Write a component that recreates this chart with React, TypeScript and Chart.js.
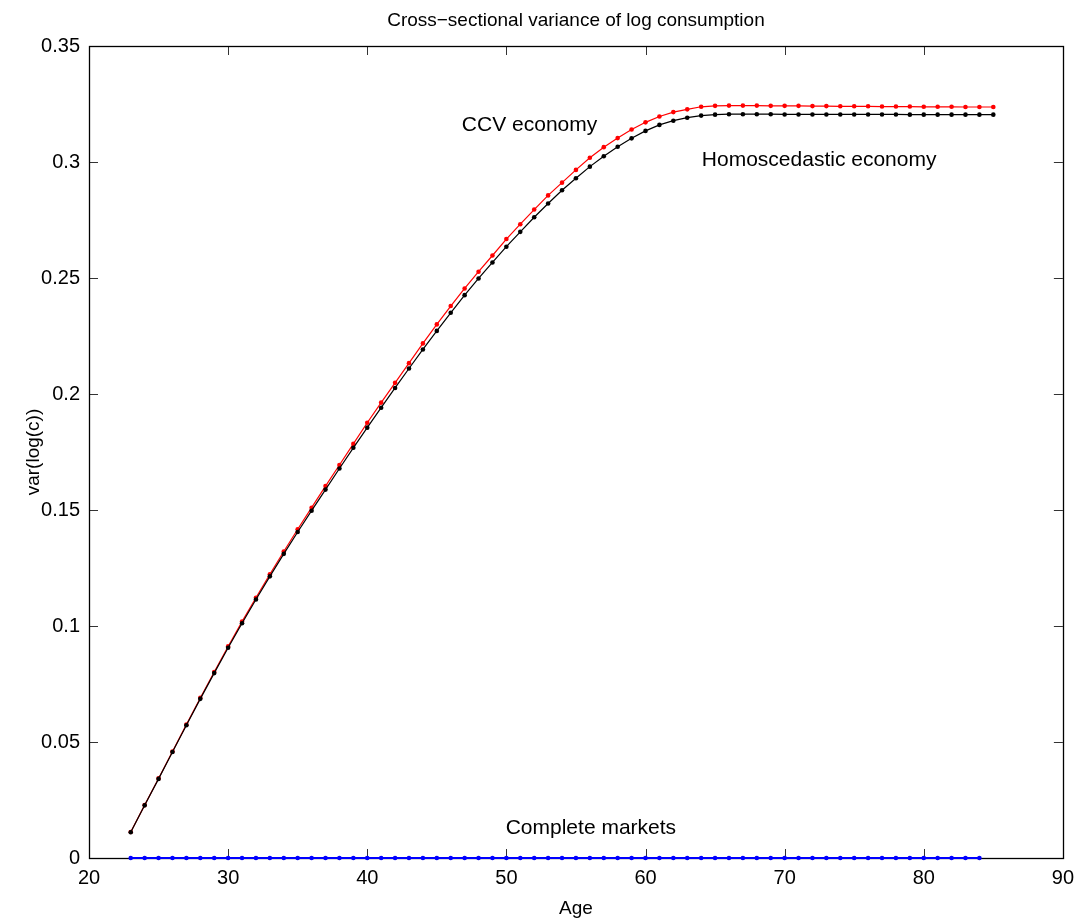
import React, { useEffect, useRef } from "react";
import { Chart, registerables } from "chart.js";

Chart.register(...registerables);

const ages: number[] = [
  23, 24, 25, 26, 27, 28, 29, 30, 31, 32, 33, 34, 35, 36, 37, 38, 39, 40, 41, 42, 43,
  44, 45, 46, 47, 48, 49, 50, 51, 52, 53, 54, 55, 56, 57, 58, 59, 60, 61, 62, 63, 64,
  65, 66, 67, 68, 69, 70, 71, 72, 73, 74, 75, 76, 77, 78, 79, 80, 81, 82, 83, 84, 85,
];

const homoscedastic: number[] = [
  0.0111, 0.0227, 0.0341, 0.0457, 0.0572, 0.0686, 0.0797, 0.0906, 0.1012, 0.1114,
  0.1214, 0.1311, 0.1405, 0.1497, 0.1588, 0.1679, 0.1768, 0.1855, 0.1941, 0.2026,
  0.2110, 0.2192, 0.2272, 0.2350, 0.2426, 0.2498, 0.2567, 0.2635, 0.2699, 0.2762,
  0.2821, 0.2878, 0.2930, 0.2980, 0.3025, 0.3066, 0.3102, 0.3134, 0.3160, 0.3178,
  0.3191, 0.3200, 0.3204, 0.3206, 0.3206, 0.3206, 0.3206, 0.3205, 0.3205, 0.3205,
  0.3205, 0.3205, 0.3205, 0.3205, 0.3205, 0.3205, 0.3204, 0.3204, 0.3204, 0.3204,
  0.3204, 0.3204, 0.3204,
];

const ccv: number[] = [
  0.0112, 0.0228, 0.0343, 0.0459, 0.0575, 0.0690, 0.0802, 0.0912, 0.1019, 0.1122,
  0.1223, 0.1321, 0.1417, 0.1510, 0.1603, 0.1694, 0.1785, 0.1876, 0.1963, 0.2048,
  0.2133, 0.2218, 0.2300, 0.2379, 0.2455, 0.2527, 0.2597, 0.2668, 0.2732, 0.2795,
  0.2856, 0.2911, 0.2966, 0.3018, 0.3064, 0.3103, 0.3140, 0.3171, 0.3196, 0.3215,
  0.3227, 0.3238, 0.3242, 0.3243, 0.3243, 0.3243, 0.3242, 0.3242, 0.3242, 0.3241,
  0.3241, 0.3240, 0.3240, 0.3240, 0.3239, 0.3239, 0.3239, 0.3238, 0.3238, 0.3238,
  0.3237, 0.3237, 0.3237,
];

const completeAges: number[] = [
  23, 24, 25, 26, 27, 28, 29, 30, 31, 32, 33, 34, 35, 36, 37, 38, 39, 40, 41, 42, 43,
  44, 45, 46, 47, 48, 49, 50, 51, 52, 53, 54, 55, 56, 57, 58, 59, 60, 61, 62, 63, 64,
  65, 66, 67, 68, 69, 70, 71, 72, 73, 74, 75, 76, 77, 78, 79, 80, 81, 82, 83, 84,
];
const completeMarkets: number[] = [
  0, 0, 0, 0, 0, 0, 0, 0, 0, 0, 0, 0, 0, 0, 0, 0, 0, 0, 0, 0, 0,
  0, 0, 0, 0, 0, 0, 0, 0, 0, 0, 0, 0, 0, 0, 0, 0, 0, 0, 0, 0, 0,
  0, 0, 0, 0, 0, 0, 0, 0, 0, 0, 0, 0, 0, 0, 0, 0, 0, 0, 0, 0,
];

const xTicks: number[] = [20, 30, 40, 50, 60, 70, 80, 90];
const yTicks: number[] = [0, 0.05, 0.1, 0.15, 0.2, 0.25, 0.3, 0.35];

const titleText = "Cross\u2212sectional variance of log consumption";
const xLabel = "Age";
const yLabel = "var(log(c))";

const annotations = [
  { text: "CCV economy", x: 46.8, y: 0.3134 },
  { text: "Homoscedastic economy", x: 64.05, y: 0.2983 },
  { text: "Complete markets", x: 49.95, y: 0.0103 },
];

const FONT = '"Liberation Sans", Arial, Helvetica, sans-serif';

const framePlugin = {
  id: "matlabFrame",
  beforeDatasetsDraw(chart: any) {
    const { ctx, chartArea, scales } = chart;
    const { left, right, top, bottom } = chartArea;
    const xs = scales.x;
    const ys = scales.y;
    ctx.save();
    ctx.strokeStyle = "#333";
    ctx.lineWidth = 1;
    const tl = 9;
    ctx.beginPath();
    xTicks.forEach((v) => {
      const px = Math.round(xs.getPixelForValue(v)) + 0.5;
      ctx.moveTo(px, bottom);
      ctx.lineTo(px, bottom - tl);
      ctx.moveTo(px, top);
      ctx.lineTo(px, top + tl);
    });
    yTicks.forEach((v) => {
      const py = Math.round(ys.getPixelForValue(v)) + 0.5;
      ctx.moveTo(left, py);
      ctx.lineTo(left + tl, py);
      ctx.moveTo(right, py);
      ctx.lineTo(right - tl, py);
    });
    ctx.stroke();
    ctx.strokeStyle = "#000";
    ctx.lineWidth = 1.3;
    ctx.strokeRect(Math.round(left) + 0.5, Math.round(top) + 0.5, Math.round(right - left), Math.round(bottom - top));
    ctx.restore();
  },
  afterDraw(chart: any) {
    const { ctx, chartArea, scales } = chart;
    const { left, right, top, bottom } = chartArea;
    const xs = scales.x;
    const ys = scales.y;
    ctx.save();
    ctx.fillStyle = "#000";
    ctx.font = "19px " + FONT;
    ctx.textAlign = "center";
    ctx.textBaseline = "alphabetic";
    ctx.fillText(titleText, (left + right) / 2, 26);
    ctx.fillText(xLabel, (left + right) / 2, 914);
    ctx.save();
    ctx.translate(39, (top + bottom) / 2);
    ctx.rotate(-Math.PI / 2);
    ctx.fillText(yLabel, 0, 0);
    ctx.restore();
    ctx.font = "21px " + FONT;
    ctx.textAlign = "left";
    annotations.forEach((a) => {
      ctx.fillText(a.text, xs.getPixelForValue(a.x), ys.getPixelForValue(a.y));
    });
    ctx.restore();
  },
};

export default function App() {
  const ref = useRef<HTMLCanvasElement | null>(null);
  useEffect(() => {
    if (!ref.current) return;
    const chart = new Chart(ref.current, {
      type: "line",
      data: {
        datasets: [
          {
            label: "Homoscedastic economy",
            data: ages.map((a, i) => ({ x: a, y: homoscedastic[i] })),
            borderColor: "#000000",
            backgroundColor: "#000000",
            borderWidth: 1.2,
            pointRadius: 2.3,
            pointBorderWidth: 0,
            pointBackgroundColor: "#000000",
            clip: false,
            order: 0,
          },
          {
            label: "CCV economy",
            data: ages.map((a, i) => ({ x: a, y: ccv[i] })),
            borderColor: "#ff0000",
            backgroundColor: "#ff0000",
            borderWidth: 1.2,
            pointRadius: 2.3,
            pointBorderWidth: 0,
            pointBackgroundColor: "#ff0000",
            clip: false,
            order: 1,
          },
          {
            label: "Complete markets",
            data: completeAges.map((a, i) => ({ x: a, y: completeMarkets[i] })),
            borderColor: "#0000ff",
            backgroundColor: "#0000ff",
            borderWidth: 2.2,
            pointRadius: 2.3,
            pointBorderWidth: 0,
            pointBackgroundColor: "#0000ff",
            clip: false,
            order: 2,
          },
        ],
      },
      options: {
        responsive: false,
        animation: false,
        devicePixelRatio: 1,
        layout: { padding: { top: 46, right: 19, left: 0, bottom: 0 } },
        plugins: {
          legend: { display: false },
          tooltip: { enabled: false },
          title: { display: false },
        },
        elements: { line: { tension: 0 } },
        scales: {
          x: {
            type: "linear",
            min: 20,
            max: 90,
            afterBuildTicks: (s: any) => {
              s.ticks = xTicks.map((v) => ({ value: v }));
            },
            ticks: {
              color: "#000",
              font: { family: FONT, size: 20 },
              padding: 8,
              maxRotation: 0,
              callback: (v: any) => String(v),
            },
            grid: { display: false, drawTicks: false },
            border: { display: false },
            afterFit: (s: any) => {
              s.height = 65;
            },
          },
          y: {
            type: "linear",
            min: 0,
            max: 0.35,
            afterBuildTicks: (s: any) => {
              s.ticks = yTicks.map((v) => ({ value: v }));
            },
            ticks: {
              color: "#000",
              font: { family: FONT, size: 20 },
              padding: 9,
              callback: (v: any) => String(Math.round(Number(v) * 100) / 100),
            },
            grid: { display: false, drawTicks: false },
            border: { display: false },
            afterFit: (s: any) => {
              s.width = 89;
            },
          },
        },
      },
      plugins: [framePlugin],
    });
    return () => chart.destroy();
  }, []);
  return (
    <div style={{ position: "absolute", left: 0, top: 0, width: 1082, height: 923, background: "#fff" }}>
      <canvas ref={ref} width={1082} height={923} style={{ width: 1082, height: 923, display: "block" }} />
    </div>
  );
}
